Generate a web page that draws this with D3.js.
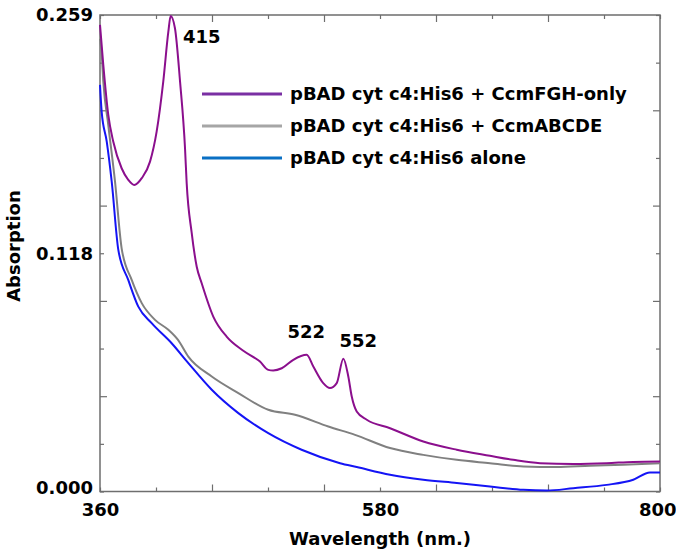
<!DOCTYPE html>
<html>
<head>
<meta charset="utf-8">
<script src="https://cdn.jsdelivr.net/npm/d3@7"></script>
<style>
  body { margin: 0; background: #fff; }
  text { font-family: "DejaVu Sans", sans-serif; font-weight: bold; fill: #000; }
</style>
</head>
<body>
<script>
// Spectra: [wavelength nm, absorbance]
var fghOnly = [[360,0.2536],[362.6,0.2318],[366.5,0.2047],[370.4,0.1902],[377,0.1757],[382.2,0.1694],
  [386.9,0.1666],[392.8,0.1703],[399.3,0.1793],[404.5,0.1956],[409.7,0.2228],[413.7,0.2499],[415.5,0.2585],
  [418.9,0.2518],[422.9,0.2228],[426.8,0.1866],[428.1,0.1676],[432,0.1408],[436,0.1222],[439.9,0.1132],
  [449,0.0951],[459.5,0.0842],[472.6,0.0765],[485.7,0.0706],
  [492.2,0.0661],[496.1,0.0658],[502.8,0.067],[511.9,0.0716],[522.4,0.0743],[527.6,0.0679],[535.4,0.0589],
  [540.7,0.0562],[546,0.0589],[551.2,0.0722],[555.1,0.0625],[557.8,0.0516],[561.7,0.0435],[569.6,0.039],
  [587.9,0.0344],[614,0.0272],[640.3,0.0227],[666.4,0.0194],[684.7,0.0172],[705.7,0.0154],[731.9,0.015],
  [758.1,0.0154],[779,0.0161],[800,0.0163]];

var abcde = [[360,0.246],[361.3,0.238],[362.6,0.2228],[366.5,0.1992],[371.8,0.1684],[377,0.1322],
  [384.9,0.115],[392.8,0.1024],[403.2,0.0933],[413.7,0.0879],[421.3,0.0824],[429.4,0.0733],[447.8,0.0625],
  [468.7,0.0535],[492.2,0.0444],[513.2,0.0417],[539.4,0.0353],[560.4,0.0308],[587.9,0.0236],[614,0.0199],
  [640.3,0.0172],[666.4,0.0154],[692.6,0.0136],[718.8,0.0133],[745,0.014],[771.2,0.0145],[800,0.0154]];

var alone = [[360,0.221],[361.3,0.2065],[365.3,0.1902],[369.2,0.1684],[374.4,0.1313],[382.2,0.115],
  [390.1,0.1005],[400.6,0.0915],[416.3,0.0806],[429.4,0.0698],[447.8,0.0553],[468.7,0.0426],[492.2,0.0317],
  [518.4,0.0227],[548.6,0.0154],[561.7,0.0133],[587.9,0.0091],[614,0.0064],[640.3,0.0046],[666.4,0.0027],
  [692.6,0.0009],[711,0.0005],[731.9,0.0018],[758.1,0.0036],[779,0.0064],[792.1,0.0103],[800,0.0103]];

var seriesNames = ["pBAD cyt c4:His6 + CcmFGH-only", "pBAD cyt c4:His6 + CcmABCDE", "pBAD cyt c4:His6 alone"];
var lineColors = ["#8b0f8d", "#808080", "#1414f5"];
var legendColors = ["#7a2fa3", "#a6a6a6", "#0a70c4"];

var xLabelValues = [360, 580, 800];
var yLabelTexts = ["0.000", "0.118", "0.259"];
var peakLabels = [415, 522, 552];

var W = 676, H = 555;
var pL = 100, pR = 660, pT = 15, pB = 491.5;

var svg = d3.select("body").append("svg").attr("width", W).attr("height", H);

var x = d3.scaleLinear().domain([360, 800]).range([pL, pR]);
var y = d3.scaleLinear().domain([0, 0.259]).range([pB, pT]);

var xTicks = d3.range(11).map(function(i) { return 360 + i * 44; });
var yTicks = d3.range(11).map(function(i) { return i * 0.0259; });
var isMajor = function(d, i) { return i > 0 && i < 10 && i % 2 === 0; };

function tickAxis(axisFn, scale, ticks, size, transform) {
  var g = svg.append("g").attr("transform", transform)
    .call(axisFn(scale).tickValues(ticks).tickSizeOuter(0).tickSizeInner(size).tickFormat(""));
  g.select(".domain").remove();
  g.selectAll("line").attr("stroke", "#6e6e6e").attr("stroke-width", 1.2);
  return g;
}
var xMaj = xTicks.filter(isMajor), xMin = xTicks.filter(function(d, i) { return !isMajor(d, i); });
var yMaj = yTicks.filter(isMajor), yMin = yTicks.filter(function(d, i) { return !isMajor(d, i); });
tickAxis(d3.axisBottom, x, xMaj, -7, "translate(0," + pB + ")");
tickAxis(d3.axisBottom, x, xMin, -4, "translate(0," + pB + ")");
tickAxis(d3.axisTop, x, xMaj, -7, "translate(0," + pT + ")");
tickAxis(d3.axisTop, x, xMin, -4, "translate(0," + pT + ")");
tickAxis(d3.axisLeft, y, yMaj, -7, "translate(" + pL + ",0)");
tickAxis(d3.axisLeft, y, yMin, -4, "translate(" + pL + ",0)");
tickAxis(d3.axisRight, y, yMaj, -7, "translate(" + pR + ",0)");
tickAxis(d3.axisRight, y, yMin, -4, "translate(" + pR + ",0)");

// frame
svg.append("rect").attr("x", pL).attr("y", pT)
  .attr("width", pR - pL).attr("height", pB - pT)
  .attr("fill", "none").attr("stroke", "#6e6e6e").attr("stroke-width", 1.5);

// tick labels
var xl = svg.append("g").attr("transform", "translate(0," + pB + ")")
  .call(d3.axisBottom(x).tickValues(xLabelValues).tickSize(0).tickPadding(12).tickFormat(d3.format("d")));
xl.select(".domain").remove();
xl.selectAll("text").style("font-size", "18px").style("font-family", "DejaVu Sans").style("font-weight", "bold");
xl.selectAll(".tick").filter(function(d) { return d === 800; }).select("text")
  .attr("text-anchor", "end").attr("x", 16);

var yLabelValues = [0, 0.1295, 0.259];
var yl = svg.append("g").attr("transform", "translate(" + pL + ",0)")
  .call(d3.axisLeft(y).tickValues(yLabelValues).tickSize(0).tickPadding(7)
    .tickFormat(function(d, i) { return yLabelTexts[i]; }));
yl.select(".domain").remove();
yl.selectAll("text").style("font-size", "18px").style("font-family", "DejaVu Sans").style("font-weight", "bold");
yl.selectAll(".tick").filter(function(d) { return d === 0; }).select("text").attr("dy", "0.1em");

// axis titles
svg.append("text").attr("x", (pL + pR) / 2).attr("y", 545)
  .attr("text-anchor", "middle").style("font-size", "18px").text("Wavelength (nm.)");
svg.append("text").attr("transform", "translate(20,246) rotate(-90)")
  .attr("text-anchor", "middle").style("font-size", "18px").text("Absorption");

// spectra
var line = d3.line().x(function(d) { return x(d[0]); }).y(function(d) { return y(d[1]); })
  .curve(d3.curveMonotoneX);
[abcde, alone, fghOnly].forEach(function(s, k) {
  var idx = [1, 2, 0][k];
  svg.append("path").datum(s).attr("d", line).attr("fill", "none")
    .attr("stroke", lineColors[idx]).attr("stroke-width", 2).attr("stroke-linejoin", "round");
});

// peak annotations
var peakPos = { 415: [13, 27, "start"], 522: [0, -17, "middle"], 552: [14, -12, "middle"] };
peakLabels.forEach(function(p) {
  var pt = fghOnly.reduce(function(a, b) { return Math.abs(b[0] - p) < Math.abs(a[0] - p) ? b : a; });
  var o = peakPos[p];
  svg.append("text").attr("x", x(p) + o[0]).attr("y", y(pt[1]) + o[1])
    .attr("text-anchor", o[2]).style("font-size", "18px").text(p);
});

// legend
var legend = svg.append("g").attr("transform", "translate(202,94)");
seriesNames.forEach(function(name, i) {
  var g = legend.append("g").attr("transform", "translate(0," + (i * 32) + ")");
  g.append("line").attr("x1", 0).attr("x2", 80).attr("y1", 0).attr("y2", 0)
    .attr("stroke", legendColors[i]).attr("stroke-width", 3.2);
  g.append("text").attr("x", 88).attr("y", 0).attr("dy", "0.35em")
    .style("font-size", "18px").text(name);
});
</script>
</body>
</html>
